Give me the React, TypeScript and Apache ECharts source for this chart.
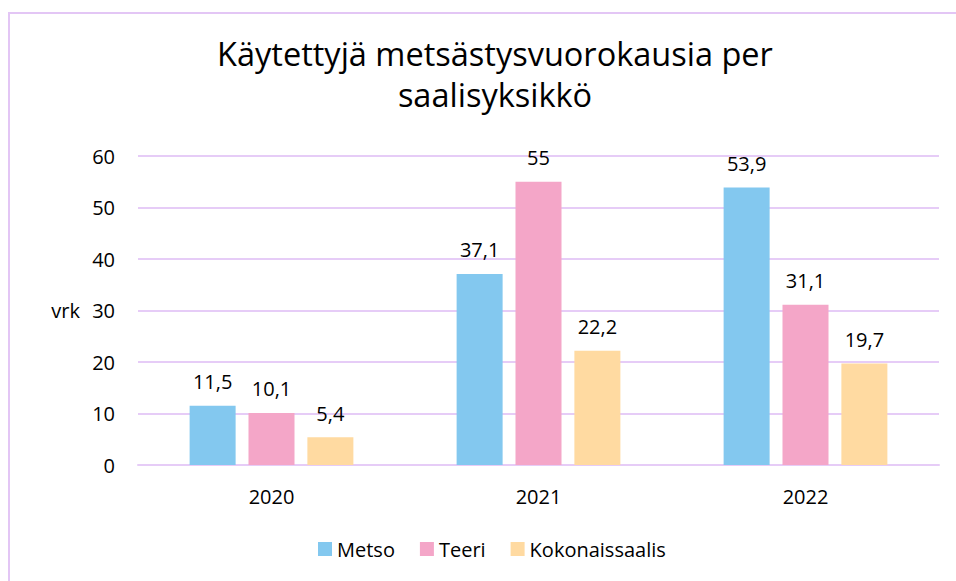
import React, { useEffect, useRef } from "react";
import * as echarts from "echarts";

const categories = ["2020", "2021", "2022"];
const metso = [11.5, 37.1, 53.9];
const teeri = [10.1, 55, 31.1];
const kokonaissaalis = [5.4, 22.2, 19.7];
const seriesNames = ["Metso", "Teeri", "Kokonaissaalis"];
const colors = ["#83C8EF", "#F4A6C8", "#FFDAA1"];
const titleText = "Käytettyjä metsästysvuorokausia per\nsaalisyksikkö";

const FONT = "'Open Sans', 'Noto Sans', sans-serif";

export default function App() {
  const ref = useRef<HTMLDivElement>(null);
  useEffect(() => {
    document.body.style.margin = "0";
    const chart = echarts.init(ref.current!, null, { renderer: "svg" });
    const fmt = (p: any) => String(p.value).replace(".", ",");
    const mk = (name: string, data: number[], color: string) => ({
      name,
      type: "bar",
      data,
      barWidth: 46,
      barGap: "28%",
      itemStyle: { color },
      label: {
        show: true,
        position: "top",
        distance: 14,
        formatter: fmt,
        fontSize: 20,
        color: "#000",
        fontFamily: FONT,
      },
    });
    chart.setOption({
      animation: false,
      backgroundColor: "#fff",
      title: {
        text: titleText,
        left: 490,
        textAlign: "center",
        top: 28,
        textStyle: {
          fontSize: 32.5,
          fontWeight: "normal",
          color: "#000",
          fontFamily: FONT,
          lineHeight: 41,
        },
      },
      legend: {
        top: 534,
        left: 313,
        itemWidth: 14,
        itemHeight: 14,
        itemGap: 25,
        icon: "rect",
        textStyle: { fontSize: 20, color: "#000", fontFamily: FONT },
        data: seriesNames,
      },
      grid: { left: 138, right: 17, top: 156, bottom: 116 },
      xAxis: {
        type: "category",
        data: categories,
        axisLine: { show: true, lineStyle: { color: "#E6CCF7", width: 2 } },
        axisTick: { show: false },
        axisLabel: { fontSize: 20, color: "#000", fontFamily: FONT, margin: 21 },
      },
      yAxis: {
        type: "value",
        min: 0,
        max: 60,
        interval: 10,
        name: "vrk",
        nameLocation: "middle",
        nameRotate: 0,
        nameGap: 58,
        nameTextStyle: { fontSize: 20, color: "#000", fontFamily: FONT },
        axisLine: { show: false },
        axisTick: { show: false },
        axisLabel: { fontSize: 20, color: "#000", fontFamily: FONT, margin: 23 },
        splitLine: { lineStyle: { color: "#E6CCF7", width: 2 } },
      },
      graphic: [
        {
          type: "rect",
          shape: { x: 9, y: 13, width: 1000, height: 1000 },
          style: { fill: "none", stroke: "#E3C6F5", lineWidth: 2 },
          silent: true,
        },
      ],
      series: [
        mk(seriesNames[0], metso, colors[0]),
        mk(seriesNames[1], teeri, colors[1]),
        mk(seriesNames[2], kokonaissaalis, colors[2]),
      ],
    });
    return () => chart.dispose();
  }, []);
  return <div ref={ref} style={{ width: 956, height: 581 }} />;
}
